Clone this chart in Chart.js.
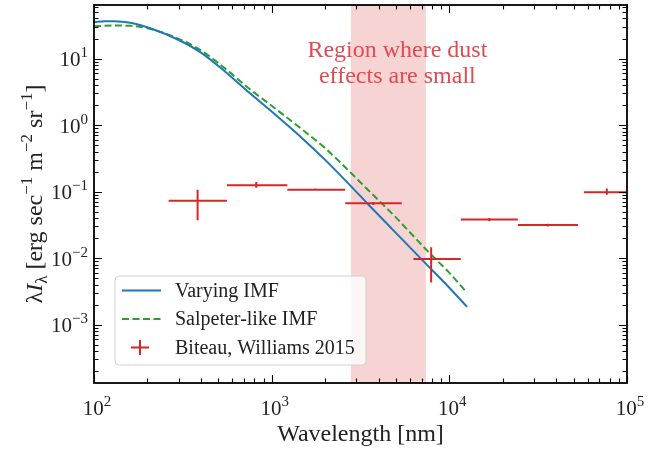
<!DOCTYPE html>
<html>
<head>
<meta charset="utf-8">
<script src="https://cdn.jsdelivr.net/npm/chart.js@4.4.1/dist/chart.umd.min.js"></script>
<style>
  html, body { margin: 0; padding: 0; background: #fff; }
</style>
</head>
<body>
<canvas id="eblChart" width="670" height="449"></canvas>
<script>
// model curves (wavelength in nm, lambda*I_lambda)
const waveVarying = [100, 115, 130, 160, 211, 300, 400, 550, 755, 1000, 1500, 2000, 2800, 3500, 5000, 7300, 10000, 12600];
const fluxVarying = [35.2, 36.3, 36.4, 34.5, 28, 19, 12.3, 6.3, 3.0, 1.6, 0.62, 0.30, 0.12, 0.064, 0.024, 0.0085, 0.0036, 0.00185];

const waveSalpeter = [100, 130, 160, 211, 300, 400, 550, 755, 1000, 1500, 2000, 2800, 3500, 5000, 7300, 10000, 12600];
const fluxSalpeter = [30.6, 31.3, 31.0, 27.5, 19.8, 13.3, 7.0, 3.45, 1.95, 0.84, 0.45, 0.19, 0.105, 0.041, 0.014, 0.006, 0.003];

// Biteau & Williams 2015 points
const bwWave  = [383, 819, 1763, 3730, 7900, 16800, 35800, 77000];
const bwWaveLo = [263, 560, 1225, 2594, 6280, 11600, 24300, 57200];
const bwWaveHi = [560, 1225, 2594, 5400, 11600, 24300, 53000, 104000];
const bwFlux   = [0.073, 0.125, 0.107, 0.0667, 0.0097, 0.038, 0.0316, 0.098];
const bwFluxLo = [0.037, 0.114, 0.103, 0.063, 0.0043, 0.036, 0.030, 0.090];
const bwFluxHi = [0.107, 0.140, 0.111, 0.070, 0.0146, 0.040, 0.033, 0.111];

// shaded band
const dustBand = [2790, 7380];

const xTickExps = [2, 3, 4, 5];
const yTickExps = [1, 0, -1, -2, -3];

const serif = "'Liberation Serif', 'DejaVu Serif', serif";
const red = '#d62728';

function pts(xs, ys) {
    return xs.map((x, i) => ({ x: x, y: ys[i] }));
}

// draw a string made of pieces: {t, size, dy, italic}
function drawPieces(ctx, pieces, x, y) {
    let cx = x;
    pieces.forEach(p => {
        ctx.font = (p.italic ? 'italic ' : '') + p.size + 'px ' + serif;
        ctx.fillText(p.t, cx, y + (p.dy || 0));
        cx += ctx.measureText(p.t).width;
    });
    return cx - x;
}
function piecesWidth(ctx, pieces) {
    let w = 0;
    pieces.forEach(p => {
        ctx.font = (p.italic ? 'italic ' : '') + p.size + 'px ' + serif;
        w += ctx.measureText(p.t).width;
    });
    return w;
}
function powLabel(e) {
    const s = e < 0 ? '\u2212' + (-e) : String(e);
    return [{ t: '10', size: 21 }, { t: s, size: 15, dy: -9 }];
}

const decorPlugin = {
    id: 'decor',
    beforeDatasetsDraw(chart) {
        const { ctx, chartArea: a, scales: { x } } = chart;
        ctx.save();
        ctx.fillStyle = 'rgba(214,39,40,0.2)';
        const x0 = x.getPixelForValue(dustBand[0]);
        const x1 = x.getPixelForValue(dustBand[1]);
        ctx.fillRect(x0, a.top, x1 - x0, a.bottom - a.top);
        ctx.restore();
    },
    afterDatasetsDraw(chart) {
        const { ctx, chartArea: a, scales: { x, y } } = chart;
        ctx.save();
        ctx.beginPath();
        ctx.rect(a.left, a.top, a.right - a.left, a.bottom - a.top);
        ctx.clip();
        ctx.strokeStyle = red;
        ctx.lineWidth = 2;
        bwWave.forEach((w, i) => {
            const yc = y.getPixelForValue(bwFlux[i]);
            const xc = x.getPixelForValue(w);
            ctx.beginPath();
            ctx.moveTo(x.getPixelForValue(bwWaveLo[i]), yc);
            ctx.lineTo(x.getPixelForValue(bwWaveHi[i]), yc);
            ctx.moveTo(xc, y.getPixelForValue(bwFluxLo[i]));
            ctx.lineTo(xc, y.getPixelForValue(bwFluxHi[i]));
            ctx.stroke();
        });
        ctx.restore();
    },
    afterDraw(chart) {
        const { ctx, chartArea: a, scales: { x, y } } = chart;
        ctx.save();

        // annotation
        ctx.fillStyle = '#e04a52';
        ctx.font = '24px ' + serif;
        ctx.textAlign = 'center';
        ctx.textBaseline = 'middle';
        const tx = x.getPixelForValue(Math.sqrt(dustBand[0] * dustBand[1]));
        ctx.fillText('Region where dust', tx + 9, 51);
        ctx.fillText('effects are small', tx + 9, 77);

        // legend
        const lx = 115, ly = 276, lw = 251, lh = 89;
        ctx.beginPath();
        ctx.roundRect(lx, ly, lw, lh, 4);
        ctx.fillStyle = 'rgba(255,255,255,0.8)';
        ctx.fill();
        ctx.strokeStyle = '#d0d0d0';
        ctx.lineWidth = 1;
        ctx.stroke();
        const ds = chart.data.datasets;
        const rows = [290.5, 319, 347.5];
        ctx.textAlign = 'left';
        ctx.textBaseline = 'middle';
        ds.forEach((d, i) => {
            const ry = rows[i];
            ctx.strokeStyle = d.borderColor;
            ctx.lineWidth = 2;
            ctx.setLineDash(d.borderDash || []);
            ctx.beginPath();
            if (i < 2) {
                ctx.moveTo(122, ry);
                ctx.lineTo(161, ry);
            } else {
                ctx.moveTo(131, ry);
                ctx.lineTo(149, ry);
                ctx.moveTo(140, ry - 7.5);
                ctx.lineTo(140, ry + 7.5);
            }
            ctx.stroke();
            ctx.setLineDash([]);
            ctx.fillStyle = '#222';
            ctx.font = '20px ' + serif;
            ctx.fillText(d.label, 175, ry + 1);
        });

        // inward ticks
        ctx.strokeStyle = '#000';
        ctx.lineWidth = 1.1;
        ctx.beginPath();
        for (let e = 2; e <= 5; e++) {
            for (let k = 1; k <= 9; k++) {
                const v = k * Math.pow(10, e);
                if (v > x.max * 1.0001) break;
                const px = Math.round(x.getPixelForValue(v)) + 0.5;
                const len = k === 1 ? 8 : 4.5;
                ctx.moveTo(px, a.bottom); ctx.lineTo(px, a.bottom - len);
                ctx.moveTo(px, a.top); ctx.lineTo(px, a.top + len);
            }
        }
        for (let e = -4; e <= 1; e++) {
            for (let k = 1; k <= 9; k++) {
                const v = k * Math.pow(10, e);
                if (v < y.min || v > y.max) continue;
                const py = Math.round(y.getPixelForValue(v)) + 0.5;
                const len = k === 1 ? 8 : 4.5;
                ctx.moveTo(a.left, py); ctx.lineTo(a.left + len, py);
                ctx.moveTo(a.right, py); ctx.lineTo(a.right - len, py);
            }
        }
        ctx.stroke();

        // frame
        ctx.lineWidth = 1.8;
        ctx.strokeRect(a.left, a.top, a.right - a.left, a.bottom - a.top);

        // tick labels
        ctx.fillStyle = '#222';
        ctx.textAlign = 'left';
        ctx.textBaseline = 'alphabetic';
        xTickExps.forEach(e => {
            const p = powLabel(e);
            const w = piecesWidth(ctx, p);
            drawPieces(ctx, p, x.getPixelForValue(Math.pow(10, e)) - w / 2 + 3, 415);
        });
        yTickExps.forEach(e => {
            const p = powLabel(e);
            const w = piecesWidth(ctx, p);
            drawPieces(ctx, p, a.left - 6 - w, y.getPixelForValue(Math.pow(10, e)) + 7.5);
        });

        // axis titles
        ctx.font = '24px ' + serif;
        ctx.textAlign = 'center';
        ctx.fillText('Wavelength [nm]', (a.left + a.right) / 2, 441);

        const yt = [
            { t: '\u03bb', size: 24 }, { t: 'I', size: 24, italic: true },
            { t: '\u03bb', size: 17, dy: 5 },
            { t: ' [erg sec', size: 24 }, { t: '\u22121', size: 17, dy: -10 },
            { t: ' m', size: 24 }, { t: '\u22122', size: 17, dy: -10 },
            { t: ' sr', size: 24 }, { t: '\u22121', size: 17, dy: -10 },
            { t: ']', size: 24 }
        ];
        ctx.save();
        ctx.translate(42, (a.top + a.bottom) / 2);
        ctx.rotate(-Math.PI / 2);
        ctx.textAlign = 'left';
        const tw = piecesWidth(ctx, yt);
        drawPieces(ctx, yt, -tw / 2, 0);
        ctx.restore();

        ctx.restore();
    }
};

const ctx = document.getElementById('eblChart').getContext('2d');
const chart = new Chart(ctx, {
    type: 'scatter',
    data: {
        datasets: [{
            label: 'Varying IMF',
            data: pts(waveVarying, fluxVarying),
            showLine: true,
            borderColor: '#1f77b4',
            borderWidth: 2,
            pointRadius: 0,
            cubicInterpolationMode: 'monotone'
        }, {
            label: 'Salpeter-like IMF',
            data: pts(waveSalpeter, fluxSalpeter),
            showLine: true,
            borderColor: '#2ca02c',
            borderDash: [7, 3.5],
            borderWidth: 2,
            pointRadius: 0,
            cubicInterpolationMode: 'monotone'
        }, {
            label: 'Biteau, Williams 2015',
            data: pts(bwWave, bwFlux),
            borderColor: red,
            backgroundColor: red,
            pointRadius: 0
        }]
    },
    options: {
        responsive: false,
        animation: false,
        layout: { padding: { top: 5, right: 43, left: 0, bottom: 0 } },
        plugins: { legend: { display: false }, tooltip: { enabled: false } },
        scales: {
            x: {
                type: 'logarithmic', min: 100, max: 100000,
                grid: { display: false }, border: { display: false },
                ticks: { display: false },
                afterFit(s) { s.height = 66; }
            },
            y: {
                type: 'logarithmic', min: 1.33e-4, max: 63.8,
                grid: { display: false }, border: { display: false },
                ticks: { display: false },
                afterFit(s) { s.width = 94; }
            }
        }
    },
    plugins: [decorPlugin]
});
</script>
</body>
</html>
